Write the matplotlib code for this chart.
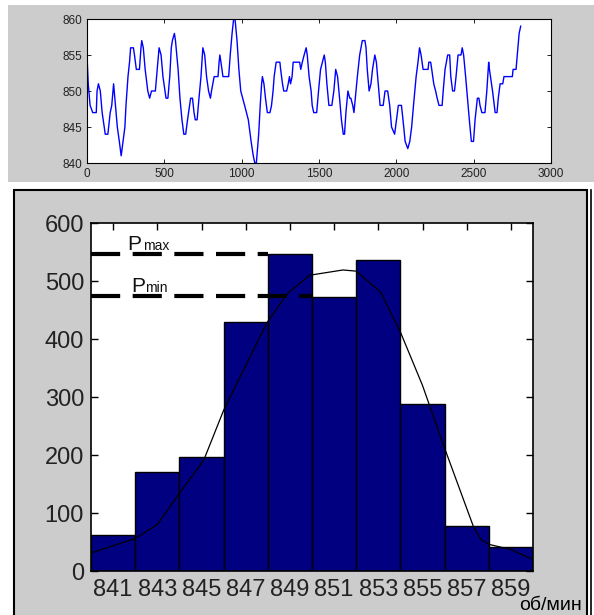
import numpy as np
import matplotlib
matplotlib.use("Agg")
import matplotlib.pyplot as plt
from matplotlib.patches import Rectangle

plt.rcParams['font.family'] = ['Liberation Sans', 'DejaVu Sans']
narrow = ['Liberation Sans Narrow', 'Liberation Sans']

# speed record (turning points)
ts_x = [0, 8, 20, 37, 60, 65, 74, 86, 98, 118, 135, 140, 150, 160, 172, 184, 196, 209, 221, 233,
        245, 252, 265, 275, 282, 300, 307, 319, 339, 349, 354, 364, 376, 393, 405, 417, 442, 454,
        466, 479, 491, 511, 523, 535, 545, 552, 565, 572, 589, 601, 614, 626, 638, 650, 663, 670,
        682, 692, 700, 712, 724, 737, 749, 761, 773, 786, 798, 805, 822, 847, 854, 859, 866, 879,
        916, 926, 938, 948, 957, 970, 982, 994, 1019, 1043, 1061, 1075, 1085, 1095, 1110, 1120,
        1129, 1134, 1144, 1154, 1166, 1183, 1193, 1203, 1210, 1223, 1247, 1252, 1264, 1272, 1291,
        1301, 1309, 1316, 1326, 1333, 1375, 1382, 1392, 1404, 1417, 1424, 1436, 1449, 1456, 1466,
        1485, 1497, 1510, 1522, 1534, 1541, 1551, 1564, 1583, 1596, 1608, 1620, 1633, 1645, 1657,
        1665, 1674, 1687, 1699, 1706, 1718, 1726, 1735, 1748, 1763, 1780, 1797, 1804, 1812, 1824,
        1836, 1846, 1861, 1871, 1883, 1895, 1915, 1927, 1944, 1957, 1969, 1989, 2001, 2013, 2033,
        2043, 2057, 2074, 2087, 2099, 2111, 2128, 2140, 2150, 2160, 2173, 2205, 2210, 2222, 2229,
        2242, 2254, 2264, 2276, 2296, 2303, 2315, 2332, 2345, 2352, 2364, 2376, 2386, 2399, 2418,
        2426, 2435, 2448, 2460, 2472, 2485, 2499, 2509, 2524, 2534, 2541, 2553, 2573, 2585, 2597,
        2602, 2622, 2639, 2651, 2659, 2671, 2688, 2696, 2750, 2755, 2774, 2786, 2794, 2804]
ts_y = [855, 851, 848, 847, 847, 850, 851, 850, 847, 844, 844, 845, 847, 848, 851, 848, 845, 843, 841, 843,
        845, 848, 852, 854, 856, 856, 855, 853, 853, 856, 857, 856, 853, 850, 849, 850, 850, 853,
        856, 855, 852, 849, 849, 852, 856, 857, 858, 857, 853, 849, 846, 844, 844, 846, 848, 849,
        849, 847, 846, 846, 849, 852, 856, 855, 852, 850, 849, 850, 852, 852, 854, 855, 854, 852,
        852, 855, 858, 860, 860, 857, 853, 850, 848, 846, 843, 841, 840, 840, 844, 848,
        851, 852, 851, 849, 847, 847, 848, 850, 852, 854, 854, 853, 851, 850, 850,
        851, 852, 851, 852, 854, 854, 853, 854, 855, 856, 855, 852, 850, 848, 847,
        847, 850, 853, 854, 855, 854, 851, 848, 848, 850, 853, 852, 849, 846, 844,
        844, 847, 850, 849, 849, 848, 847, 849, 852, 855, 857, 857, 856, 853, 850,
        851, 853, 855, 854, 851, 848, 848, 850, 850, 848, 845, 844, 846, 848, 848,
        846, 843, 842, 843, 845, 848, 852, 854, 856, 855, 853, 853, 854, 854, 853,
        851, 850, 849, 848, 848, 850, 853, 855, 855, 852, 850, 850, 852, 855, 855,
        856, 855, 852, 849, 846, 843, 843, 846, 849, 849, 848, 847, 847, 850, 854,
        853, 850, 847, 847, 849, 851, 851, 852, 852, 853, 853, 856, 858, 859]

# histogram
bins = [841, 843, 845, 847, 849, 851, 853, 855, 857, 859]
counts = [62, 170, 197, 430, 546, 473, 537, 288, 77, 42]

# fitted curve
curve_x = [840, 842, 843, 844, 845.1, 846, 847.96, 848.9, 849.9, 851.4, 852, 853.1, 854, 855,
           855.95, 857.3, 857.65, 858, 859, 860]
curve_y = [31, 56, 80, 134, 191, 277, 428, 479, 510, 519, 517, 481, 412, 320,
           217, 77, 54, 46, 37, 20]

p_max = 546
p_min = 475

W, H = 594, 615
fig = plt.figure(figsize=(W / 100, H / 100), dpi=100)

def px_rect(x0, y0, x1, y1):
    # pixel box (top-left origin) -> figure fraction
    return [x0 / W, 1 - y1 / H, (x1 - x0) / W, (y1 - y0) / H]

# grey panels
r = px_rect(8, 5, 594, 182)
fig.patches.append(Rectangle((r[0], r[1]), r[2], r[3], transform=fig.transFigure,
                             facecolor='#cccccc', edgecolor='none', zorder=-2))
r = px_rect(14, 190, 587, 620)
fig.patches.append(Rectangle((r[0], r[1]), r[2], r[3], transform=fig.transFigure,
                             facecolor='#cccccc', edgecolor='black', lw=1.5, zorder=-2))
fig.add_artist(plt.Line2D([591 / W, 591 / W], [0, 1 - 190 / H], color='black', lw=1.2))

# top: time series
ax1 = fig.add_axes(px_rect(87, 19, 551, 163))
ax1.set_zorder(2)
ax1.plot(ts_x, ts_y, color='#0000ff', lw=1)
ax1.set_xlim(0, 3000)
ax1.set_ylim(840, 860)
ax1.set_xticks(range(0, 3001, 500))
ax1.set_yticks(range(840, 861, 5))
ax1.tick_params(direction='in', top=True, right=True, labelsize=8.5, length=3,
                labelcolor='#222222', width=0.6)
for lab in ax1.get_xticklabels() + ax1.get_yticklabels():
    lab.set_family(narrow)
for s in ax1.spines.values():
    s.set_linewidth(0.8)

# bottom: histogram
ax2 = fig.add_axes(px_rect(91, 223, 533, 571))
ax2.set_zorder(2)
ax2.bar(bins, counts, width=2, color='#000080', edgecolor='black', lw=1)
ax2.plot(curve_x, curve_y, color='black', lw=0.9)
ax2.plot([840, 848], [p_max, p_max], color='black', lw=3, ls=(0, (7, 3)), clip_on=False)
ax2.plot([840, 850], [p_min, p_min], color='black', lw=3, ls=(0, (7, 3)), clip_on=False)
ax2.text(841.63, 553, 'P', fontsize=15, va='baseline', ha='left', color='#111111')
ax2.text(842.35, 553, 'max', fontsize=10, va='baseline', ha='left', color='#111111')
ax2.text(841.8, 481, 'P', fontsize=15, va='baseline', ha='left', color='#111111')
ax2.text(842.45, 481, 'min', fontsize=10, va='baseline', ha='left', color='#111111')
ax2.set_xlim(840, 860)
ax2.set_ylim(0, 600)
ax2.set_xticks(bins)
ax2.set_yticks(range(0, 601, 100))
ax2.tick_params(direction='in', top=True, right=True, labelsize=17, length=5,
                labelcolor='#222222', width=1, pad=5)
ax2.tick_params(axis='x', bottom=False, pad=6)
for lab in ax2.get_xticklabels() + ax2.get_yticklabels():
    lab.set_family(narrow)
for s in ax2.spines.values():
    s.set_linewidth(1.2)
fig.text(550 / W, 1 - 606 / H, 'об/мин', fontsize=14, ha='center', va='center')

fig.savefig('out.png', dpi=100)
